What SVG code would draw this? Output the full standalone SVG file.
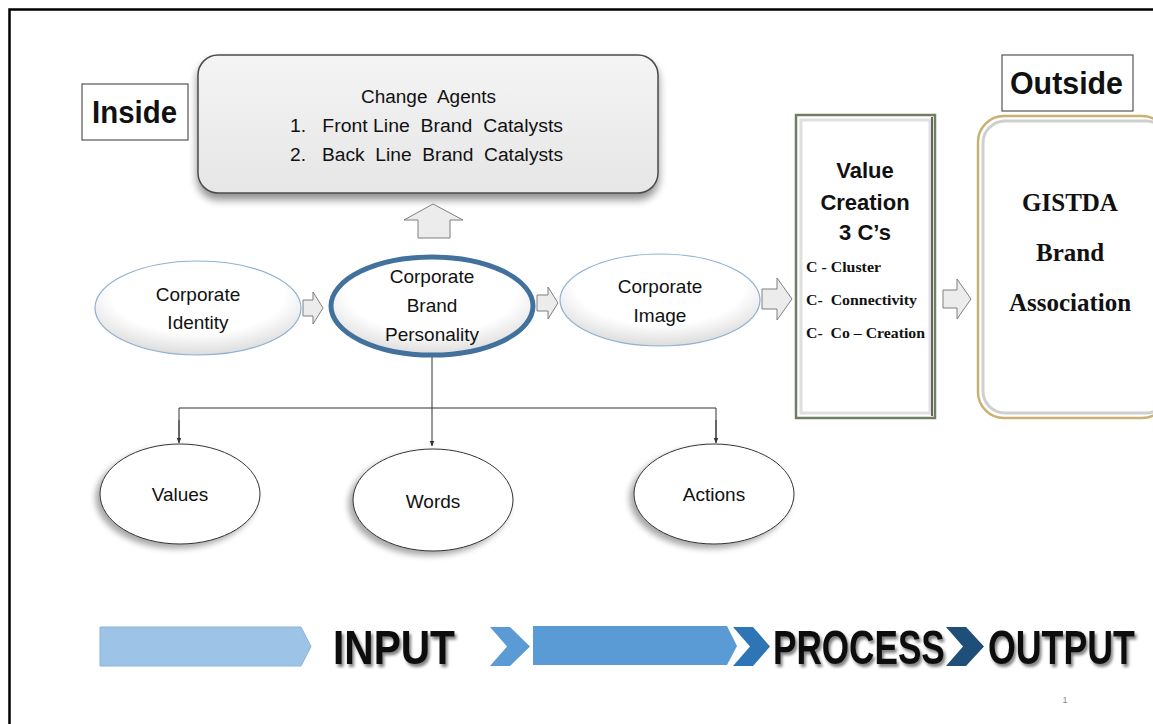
<svg xmlns="http://www.w3.org/2000/svg" width="1153" height="724" viewBox="0 0 1153 724">
<defs>
<style>
.sans{font-family:"Liberation Sans",Arial,sans-serif;fill:#111;}
.serif{font-family:"Liberation Serif","Times New Roman",serif;font-weight:bold;fill:#111;}
.lbl{font-size:19px;text-anchor:middle;}
.box{fill:#fff;stroke:#555;stroke-width:1.2;}
.blk{fill:#ececec;stroke:#7f7f7f;stroke-width:1;}
.conn{fill:none;stroke:#333;stroke-width:1;}
.big{font-size:48px;font-weight:bold;}
.pre{white-space:pre;}
</style>
<radialGradient id="eg" cx="0.5" cy="0.35" r="0.7">
<stop offset="0.6" stop-color="#ffffff"/>
<stop offset="1" stop-color="#d4d4d4"/>
</radialGradient>
<linearGradient id="cg" x1="0" y1="0" x2="0" y2="1">
<stop offset="0" stop-color="#f4f4f4"/>
<stop offset="1" stop-color="#e6e6e6"/>
</linearGradient>
<filter id="sh" x="-20%" y="-20%" width="140%" height="150%">
<feGaussianBlur in="SourceAlpha" stdDeviation="4"/>
<feOffset dx="0" dy="6" result="b"/>
<feComponentTransfer><feFuncA type="linear" slope="0.45"/></feComponentTransfer>
<feMerge><feMergeNode/><feMergeNode in="SourceGraphic"/></feMerge>
</filter>
<filter id="sh2" x="-20%" y="-20%" width="140%" height="150%">
<feGaussianBlur in="SourceAlpha" stdDeviation="3"/>
<feOffset dx="-4" dy="4" result="b"/>
<feComponentTransfer><feFuncA type="linear" slope="0.35"/></feComponentTransfer>
<feMerge><feMergeNode/><feMergeNode in="SourceGraphic"/></feMerge>
</filter>
<filter id="ts" x="-5%" y="-10%" width="115%" height="130%">
<feGaussianBlur in="SourceAlpha" stdDeviation="1.5"/>
<feOffset dx="2" dy="3"/>
<feComponentTransfer><feFuncA type="linear" slope="0.5"/></feComponentTransfer>
<feMerge><feMergeNode/><feMergeNode in="SourceGraphic"/></feMerge>
</filter>
<marker id="ah" viewBox="0 0 10 10" refX="9" refY="5" markerWidth="6" markerHeight="6" orient="auto">
<path d="M0,1 L10,5 L0,9 z" fill="#333"/>
</marker>
</defs>
<rect x="0" y="0" width="1153" height="724" fill="#fff"/>
<path d="M9.5,724 L9.5,9.5 L1153,9.5" fill="none" stroke="#000" stroke-width="2.5"/>

<g id="inside"><rect class="box" x="82" y="84" width="106" height="56"/><text class="sans" x="92" y="123" font-size="31" font-weight="bold" textLength="85" lengthAdjust="spacingAndGlyphs">Inside</text></g>

<g id="change-agents">
<rect x="198" y="55" width="460" height="138" rx="20" fill="url(#cg)" stroke="#4a4a4a" stroke-width="1.5" filter="url(#sh)"/>
<text class="sans pre" x="361" y="103" font-size="18" textLength="135" lengthAdjust="spacingAndGlyphs">Change  Agents</text>
<text class="sans pre" x="290" y="132" font-size="18" textLength="273" lengthAdjust="spacingAndGlyphs">1.   Front Line  Brand  Catalysts</text>
<text class="sans pre" x="290" y="161" font-size="18" textLength="273" lengthAdjust="spacingAndGlyphs">2.   Back  Line  Brand  Catalysts</text>
</g>

<g id="connectors">
<path class="blk" d="M433,204 L463,220 L450,220 L450,238 L418,238 L418,220 L404,220 Z"/>
<path class="blk" d="M303,300 L313,300 L313,292 L323,308 L313,324 L313,316 L303,316 Z"/>
<path class="blk" d="M537,295 L548,295 L548,287 L558,303 L548,319 L548,311 L537,311 Z"/>
<path class="blk" d="M762,289 L777,289 L777,278 L792,299 L777,320 L777,309 L762,309 Z"/>
<path class="blk" d="M943,290 L957,290 L957,279 L971,299 L957,319 L957,308 L943,308 Z"/>
<path class="conn" d="M432,357 L432,446" marker-end="url(#ah)"/>
<path class="conn" d="M179,440 L179,408 L716,408 L716,440" stroke="#777"/>
<path class="conn" d="M179,420 L179,443" marker-end="url(#ah)"/>
<path class="conn" d="M716,420 L716,443" marker-end="url(#ah)"/>
</g>

<g id="corporate-identity">
<ellipse cx="198" cy="308" rx="103" ry="47" fill="url(#eg)" stroke="#8fb0d0" stroke-width="1.2"/>
<text class="sans lbl" x="198" y="301">Corporate</text>
<text class="sans lbl" x="198" y="329">Identity</text>
</g>
<g id="corporate-brand-personality">
<ellipse cx="432" cy="306" rx="101" ry="49" fill="url(#eg)" stroke="#41719c" stroke-width="5"/>
<text class="sans lbl" x="432" y="283">Corporate</text>
<text class="sans lbl" x="432" y="312">Brand</text>
<text class="sans lbl" x="432" y="341">Personality</text>
</g>
<g id="corporate-image">
<ellipse cx="660" cy="300" rx="100" ry="46" fill="url(#eg)" stroke="#8fb0d0" stroke-width="1.2"/>
<text class="sans lbl" x="660" y="293">Corporate</text>
<text class="sans lbl" x="660" y="322">Image</text>
</g>

<g id="value-creation">
<rect x="796" y="115" width="139" height="303" fill="#fff" stroke="#6f7f60" stroke-width="2.5"/>
<rect x="801" y="120" width="129" height="293" fill="none" stroke="#e0e0e0" stroke-width="3"/>
<line x1="932" y1="117" x2="932" y2="416" stroke="#666" stroke-width="2"/>
<text class="sans" x="865" y="178" font-size="22" font-weight="bold" text-anchor="middle">Value</text>
<text class="sans" x="865" y="210" font-size="22" font-weight="bold" text-anchor="middle">Creation</text>
<text class="sans" x="865" y="240" font-size="22" font-weight="bold" text-anchor="middle">3 C’s</text>
<text class="serif pre" x="806" y="272" font-size="15" textLength="75" lengthAdjust="spacingAndGlyphs">C - Cluster</text>
<text class="serif pre" x="806" y="305" font-size="15" textLength="111" lengthAdjust="spacingAndGlyphs">C-  Connectivity</text>
<text class="serif pre" x="806" y="338" font-size="15" textLength="119" lengthAdjust="spacingAndGlyphs">C-  Co – Creation</text>
</g>

<g id="outside"><rect class="box" x="1002" y="55" width="131" height="56"/><text class="sans" x="1010" y="94" font-size="31" font-weight="bold" textLength="113" lengthAdjust="spacingAndGlyphs">Outside</text></g>

<g id="gistda">
<rect x="978" y="116" width="190" height="302" rx="26" fill="#fff" stroke="#c9b271" stroke-width="2.5"/>
<rect x="983" y="121" width="185" height="292" rx="22" fill="none" stroke="#cfcfcf" stroke-width="3"/>
<text class="serif" x="1070" y="211" font-size="25" text-anchor="middle">GISTDA</text>
<text class="serif" x="1070" y="261" font-size="25" text-anchor="middle">Brand</text>
<text class="serif" x="1070" y="311" font-size="25" text-anchor="middle">Association</text>
</g>

<g id="values">
<ellipse cx="180" cy="494" rx="80" ry="50" fill="#fff" stroke="#333" stroke-width="1" filter="url(#sh2)"/>
<text class="sans lbl" x="180" y="501">Values</text>
</g>
<g id="words">
<ellipse cx="433" cy="500" rx="80" ry="51" fill="#fff" stroke="#333" stroke-width="1" filter="url(#sh2)"/>
<text class="sans lbl" x="433" y="508">Words</text>
</g>
<g id="actions">
<ellipse cx="714" cy="494" rx="80" ry="50" fill="#fff" stroke="#333" stroke-width="1" filter="url(#sh2)"/>
<text class="sans lbl" x="714" y="501">Actions</text>
</g>

<g id="process-bar">
<path d="M100,627 L301,627 L311,646.5 L301,666 L100,666 Z" fill="#9dc3e6" stroke="#8ab3da" stroke-width="1"/>
<path d="M490,627 L510,627 L530,646.5 L510,666 L490,666 L507,646.5 Z" fill="#5b9bd5"/>
<path d="M533,626 L727,626 L737,646 L727,665 L533,665 Z" fill="#5b9bd5"/>
<path d="M733,627 L753,627 L770,646.5 L753,666 L733,666 L750,646.5 Z" fill="#2e75b6"/>
<path d="M946,627 L966,627 L984,646.5 L966,666 L946,666 L963,646.5 Z" fill="#1f4e79"/>
<g filter="url(#ts)">
<text class="sans big" transform="translate(333,664) scale(0.847,1)" x="0" y="0">INPUT</text>
<text class="sans big" transform="translate(773,664) scale(0.732,1)" x="0" y="0">PROCESS</text>
<text class="sans big" transform="translate(988,664) scale(0.745,1)" x="0" y="0">OUTPUT</text>
</g>
</g>
<text x="1065" y="703" font-family="Liberation Sans, sans-serif" font-size="9" fill="#888" text-anchor="middle">1</text>
</svg>
